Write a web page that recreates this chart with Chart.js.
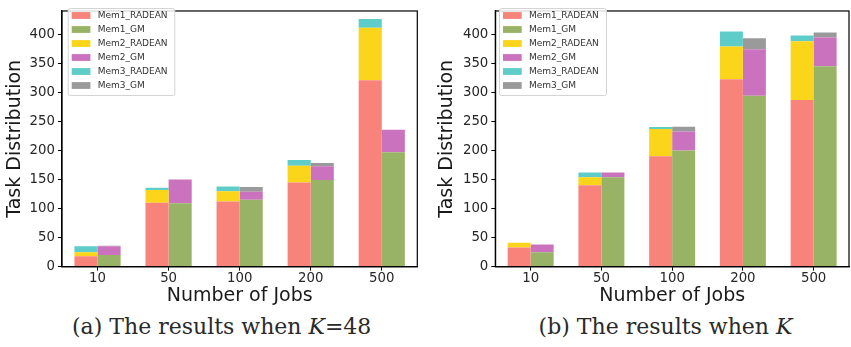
<!DOCTYPE html>
<html>
<head>
<meta charset="utf-8">
<script src="https://cdn.jsdelivr.net/npm/chart.js@4.4.1/dist/chart.umd.min.js"></script>
<style>
  html, body { margin: 0; padding: 0; background: #fff; }
  #wrap { position: relative; width: 851px; height: 347px; background: #fff; overflow: hidden; }
  canvas { position: absolute; top: 0; }
  .cap { position: absolute; top: 313px; font-family: "DejaVu Serif", "Liberation Serif", serif;
         font-size: 22px; color: #2a2a2a; white-space: nowrap; line-height: 28px; transform: translateX(-50%); }
</style>
</head>
<body>
<div id="wrap">
  <canvas id="ca" width="425" height="310" style="left:0px"></canvas>
  <canvas id="cb" width="426" height="310" style="left:425px"></canvas>
  <div class="cap" id="capA" style="left:221.7px">(a) The results when <i>K</i>=48</div>
  <div class="cap" id="capB" style="left:665.5px">(b) The results when <i>K</i></div>
</div>
<script>
// ---- data ----
const categories = ["10", "50", "100", "200", "500"];
const seriesNames = ["Mem1_RADEAN", "Mem1_GM", "Mem2_RADEAN", "Mem2_GM", "Mem3_RADEAN", "Mem3_GM"];
const yTicks = [0, 50, 100, 150, 200, 250, 300, 350, 400];

// (a) K=48
const a_mem1_radean = [18, 110, 112, 145, 321];
const a_mem1_gm     = [20, 109, 115, 149, 197];
const a_mem2_radean = [7, 22, 18, 28.5, 90];
const a_mem2_gm     = [15, 41, 14, 24, 38.5];
const a_mem3_radean = [10, 4, 8, 10, 15];
const a_mem3_gm     = [1, 0, 8, 5.5, 0];

// (b) K
const b_mem1_radean = [33, 140, 190, 322.5, 287];
const b_mem1_gm     = [25, 154, 200, 294, 345];
const b_mem2_radean = [8, 14, 47, 56.5, 101];
const b_mem2_gm     = [13, 8, 32.6, 80, 49.5];
const b_mem3_radean = [0, 8, 3.5, 25.5, 10];
const b_mem3_gm     = [0, 0, 8, 19, 8.5];

// ---- styles ----
const colors = ["#F8837A", "#99B366", "#FBD51A", "#CB72BE", "#5ECDC9", "#9A9A9A"];
const stacks = ["R", "G", "R", "G", "R", "G"];

const framePlugin = {
  id: "frame",
  afterDatasetsDraw(chart) {
    const a = chart.chartArea, ctx = chart.ctx;
    ctx.save();
    ctx.strokeStyle = "#000";
    ctx.lineWidth = 1.2;
    ctx.strokeRect(a.left, a.top, a.right - a.left, a.bottom - a.top);
    ctx.restore();
  }
};

const legendPlugin = {
  id: "inlegend",
  afterDraw(chart, args, opts) {
    const a = chart.chartArea, ctx = chart.ctx;
    const x0 = a.left + opts.dx, y0 = 8, w = opts.w, h = 87;
    ctx.save();
    ctx.fillStyle = "rgba(255,255,255,0.85)";
    ctx.strokeStyle = "#d4d4d4";
    ctx.lineWidth = 1;
    ctx.beginPath();
    if (ctx.roundRect) ctx.roundRect(x0 + 0.5, y0 + 0.5, w, h, 2); else ctx.rect(x0 + 0.5, y0 + 0.5, w, h);
    ctx.fill(); ctx.stroke();
    ctx.font = "9px 'DejaVu Sans'";
    ctx.textBaseline = "middle";
    ctx.textAlign = "left";
    chart.data.datasets.forEach((ds, i) => {
      const cy = 15.5 + 14 * i;
      ctx.fillStyle = ds.backgroundColor;
      ctx.fillRect(x0 + 4, cy - 3.4, 18.7, 6.8);
      ctx.fillStyle = "#333";
      ctx.fillText(ds.label, x0 + 30, cy + 0.5);
    });
    ctx.restore();
  }
};

function makeChart(id, series, yWidth, padRight, yTitlePad, legendDx, legendW) {
  const datasets = seriesNames.map((n, i) => ({
    label: n,
    data: series[i],
    backgroundColor: colors[i],
    stack: stacks[i],
    borderWidth: 0,
    categoryPercentage: 0.65,
    barPercentage: 1.0
  }));
  return new Chart(document.getElementById(id), {
    type: "bar",
    data: { labels: categories, datasets },
    options: {
      responsive: false,
      devicePixelRatio: 1,
      animation: false,
      layout: { padding: { left: 0, right: padRight, top: 3.5, bottom: 0 } },
      plugins: {
        legend: { display: false },
        tooltip: { enabled: false },
        inlegend: { dx: legendDx, w: legendW }
      },
      scales: {
        x: {
          stacked: true,
          offset: true,
          grid: { offset: false, drawOnChartArea: false, drawTicks: true, tickLength: 4, color: "#000", lineWidth: 1 },
          border: { display: true, color: "#000", width: 1.2 },
          ticks: { font: { family: "DejaVu Sans", size: 13.3 }, color: "#262626", padding: 0 },
          title: { display: true, text: "Number of Jobs", font: { family: "DejaVu Sans", size: 19 }, color: "#1a1a1a", padding: { top: 0, bottom: 2.6 } },
          afterFit(scale) { scale.height = 310 - 266.7; }
        },
        y: {
          stacked: true,
          min: 0,
          max: 440,
          afterBuildTicks(scale) { scale.ticks = yTicks.map(v => ({ value: v })); },
          grid: { drawOnChartArea: false, drawTicks: true, tickLength: 4, color: "#000", lineWidth: 1 },
          border: { display: true, color: "#000", width: 1.2 },
          ticks: { font: { family: "DejaVu Sans", size: 13.3 }, color: "#262626", padding: 3 },
          title: { display: true, text: "Task Distribution", font: { family: "DejaVu Sans", size: 19 }, color: "#1a1a1a", padding: { top: yTitlePad, bottom: 0 } },
          afterFit(scale) { scale.width = yWidth; }
        }
      }
    },
    plugins: [framePlugin, legendPlugin]
  });
}

makeChart("ca", [a_mem1_radean, a_mem1_gm, a_mem2_radean, a_mem2_gm, a_mem3_radean, a_mem3_gm], 62, 7.7, 4.1, 5.7, 106.6);
makeChart("cb", [b_mem1_radean, b_mem1_gm, b_mem2_radean, b_mem2_gm, b_mem3_radean, b_mem3_gm], 70.3, 2, 11.1, 3.7, 107);
</script>
</body>
</html>
